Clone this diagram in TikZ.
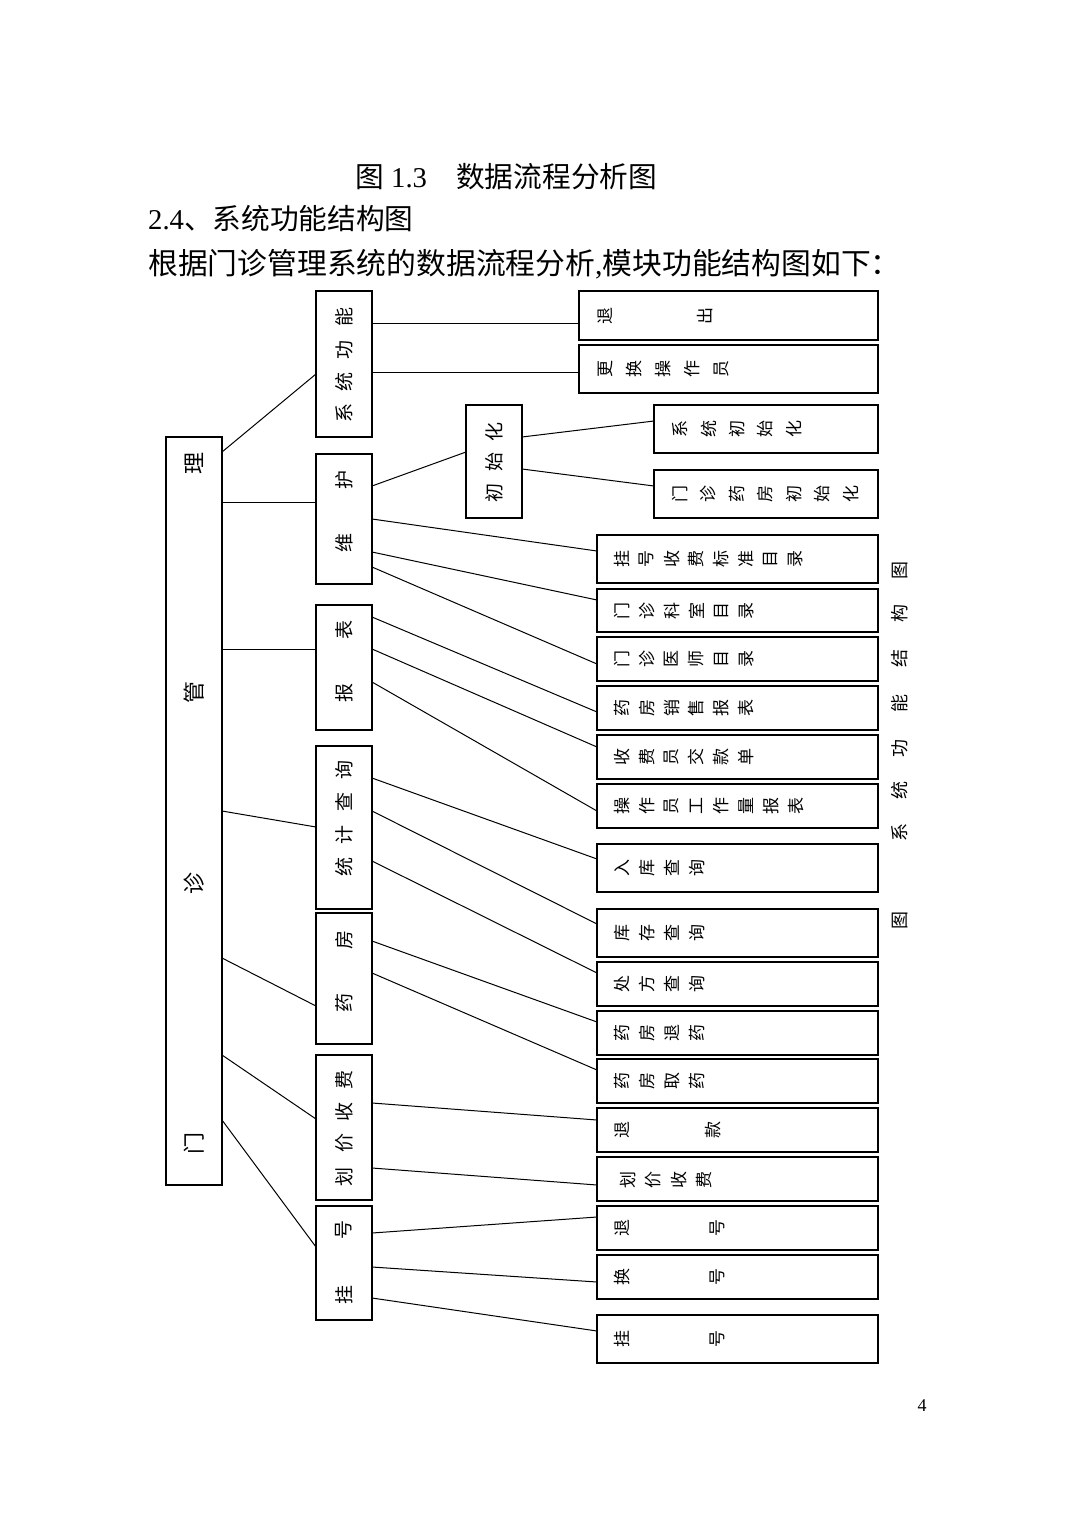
\documentclass[tikz,border=0pt]{standalone}
\usepackage{fontspec}
\setmainfont{Liberation Serif}
\newfontfamily\cjk{Noto Sans CJK SC}
\newcommand\mkbox[5]{\node[box,minimum width={(#4)-(#2)},minimum height={(#5)-(#3)}] (#1) at ({((#2)+(#4))/2},{-((#3)+(#5))/2}) {};}
\newcommand\con[4]{\draw[conn] (#1.east |- 0,-#2) -- (#3.west |- 0,-#4);}
\newcommand\vcol[4]{\foreach \yy/\qq [count=\i] in {#4} {\node[ch,font=\cjk\fontsize{#3}{#3}\selectfont] (#1-\i) at (#2,-\yy) {\qq};}}
\newcommand\hrow[6]{\foreach \qq [count=\i from 0] in {#6} {\node[ch,font=\cjk\fontsize{#5}{#5}\selectfont] (#1-\i) at ({#2+\i*#3},-#4) {\qq};}}
\newcommand\hpts[4]{\foreach \xx/\qq [count=\i] in {#4} {\node[ch,font=\cjk\fontsize{#3}{#3}\selectfont] (#1-\i) at (\xx,-#2) {\qq};}}
\begin{document}
\begin{tikzpicture}[x=1pt,y=1pt,
  box/.style={draw, line width=1.5pt, inner sep=0pt, outer sep=0pt},
  conn/.style={line width=1pt},
  ch/.style={rotate=90, inner sep=0pt},
  hdr/.style={anchor=base west, inner sep=0pt}]
\fill[white] (0,0) rectangle (1075,-1518);
\useasboundingbox (0,0) rectangle (1075,-1518);
% headings
\node[hdr, font=\cjk\fontsize{28.7}{30}\selectfont] (t1a) at (355,-187) {图};
\node[hdr, font=\fontsize{28.7}{30}\selectfont] (t1b) at (391,-187) {1.3};
\node[hdr, font=\cjk\fontsize{28.7}{30}\selectfont] (t1c) at (456,-187) {数据流程分析图};
\node[hdr, font=\fontsize{28.7}{30}\selectfont] (t2) at (148,-229) {2.4{\cjk 、系统功能结构图}};
\node[hdr, font=\fontsize{29.8}{32}\selectfont] (t3) at (148,-274) {{\cjk 根据门诊管理系统的数据流程分析},{\cjk 模块功能结构图如下：}};
\node[anchor=base, inner sep=0pt, font=\fontsize{18}{20}\selectfont] (pg) at (922,-1411) {4};
% boxes
\mkbox{root}{166}{437}{222}{1185}
\mkbox{sysfn}{316}{291}{372}{437}
\mkbox{maint}{316}{454}{372}{584}
\mkbox{report}{316}{605}{372}{730}
\mkbox{stat}{316}{746}{372}{909}
\mkbox{pharm}{316}{913}{372}{1044}
\mkbox{price}{316}{1055}{372}{1200}
\mkbox{reg}{316}{1206}{372}{1320}
\mkbox{init}{466}{405}{522}{518}
\mkbox{quit}{579}{291}{878}{340}
\mkbox{chop}{579}{345}{878}{393}
\mkbox{sysinit}{654}{405}{878}{453}
\mkbox{phinit}{654}{470}{878}{518}
\mkbox{feecat}{597}{535}{878}{583}
\mkbox{deptcat}{597}{589}{878}{632}
\mkbox{doccat}{597}{637}{878}{681}
\mkbox{salesrep}{597}{686}{878}{730}
\mkbox{cashier}{597}{735}{878}{779}
\mkbox{workload}{597}{784}{878}{828}
\mkbox{instock}{597}{844}{878}{892}
\mkbox{stock}{597}{909}{878}{957}
\mkbox{presc}{597}{962}{878}{1006}
\mkbox{ret}{597}{1011}{878}{1055}
\mkbox{take}{597}{1059}{878}{1103}
\mkbox{refund}{597}{1108}{878}{1152}
\mkbox{charge}{597}{1157}{878}{1201}
\mkbox{unreg}{597}{1206}{878}{1250}
\mkbox{swap}{597}{1255}{878}{1299}
\mkbox{register}{597}{1315}{878}{1363}
% connectors
\con{root}{452}{sysfn}{374}
\con{root}{502}{maint}{502}
\con{root}{649}{report}{649}
\con{root}{811}{stat}{827}
\con{root}{958}{pharm}{1006}
\con{root}{1055}{price}{1119}
\con{root}{1120}{reg}{1247}
\con{sysfn}{323}{quit}{323}
\con{sysfn}{372}{chop}{372}
\con{maint}{486}{init}{452}
\con{init}{437}{sysinit}{421}
\con{init}{469}{phinit}{486}
\con{maint}{519}{feecat}{551}
\con{maint}{552}{deptcat}{600}
\con{maint}{567}{doccat}{664}
\con{report}{617}{salesrep}{712}
\con{report}{649}{cashier}{747}
\con{report}{682}{workload}{811}
\con{stat}{778}{instock}{859}
\con{stat}{811}{stock}{924}
\con{stat}{861}{presc}{973}
\con{pharm}{941}{ret}{1022}
\con{pharm}{973}{take}{1070}
\con{price}{1103}{refund}{1120}
\con{price}{1168}{charge}{1185}
\con{reg}{1233}{unreg}{1217}
\con{reg}{1267}{swap}{1282}
\con{reg}{1298}{register}{1331}
% vertical texts
\vcol{rootT}{194}{22}{463/理,692/管,883/诊,1143/门}
\vcol{sysfnT}{344}{19}{317/能,350/功,382/统,413/系}
\vcol{maintT}{344}{19}{480/护,543/维}
\vcol{reportT}{344}{19}{630/表,693/报}
\vcol{statT}{344}{19}{770/询,802/查,835/计,867/统}
\vcol{pharmT}{344}{19}{940/房,1003/药}
\vcol{priceT}{344}{19}{1080/费,1112/收,1143/价,1177/划}
\vcol{regT}{344}{19}{1230/号,1295/挂}
\vcol{initT}{494}{19}{432/化,462/始,493/初}
\vcol{sideT}{900}{18}{570/图,613/构,658/结,703/能,748/功,790/统,832/系,920/图}
% row texts
\hpts{quitT}{316}{17}{605/退,705/出}
\hrow{chopT}{605}{29}{369}{17}{更,换,操,作,员}
\hrow{sysinitT}{680}{28.5}{429}{17}{系,统,初,始,化}
\hrow{phinitT}{680}{28.5}{494}{17}{门,诊,药,房,初,始,化}
\hrow{feecatT}{622}{24.8}{559}{17}{挂,号,收,费,标,准,目,录}
\hrow{deptcatT}{622}{24.8}{611}{17}{门,诊,科,室,目,录}
\hrow{doccatT}{622}{24.8}{659}{17}{门,诊,医,师,目,录}
\hrow{salesrepT}{622}{24.8}{708}{17}{药,房,销,售,报,表}
\hrow{cashierT}{622}{24.8}{757}{17}{收,费,员,交,款,单}
\hrow{workloadT}{622}{24.8}{806}{17}{操,作,员,工,作,量,报,表}
\hrow{instockT}{622}{25}{868}{17}{入,库,查,询}
\hrow{stockT}{622}{25}{933}{17}{库,存,查,询}
\hrow{prescT}{622}{25}{984}{17}{处,方,查,询}
\hrow{retT}{622}{25}{1033}{17}{药,房,退,药}
\hrow{takeT}{622}{25}{1081}{17}{药,房,取,药}
\hpts{refundT}{1130}{17}{622/退,713/款}
\hrow{chargeT}{628}{25.5}{1180}{17}{划,价,收,费}
\hpts{unregT}{1228}{17}{622/退,717/号}
\hpts{swapT}{1277}{17}{622/换,717/号}
\hpts{registerT}{1339}{17}{622/挂,717/号}
\end{tikzpicture}
\end{document}
